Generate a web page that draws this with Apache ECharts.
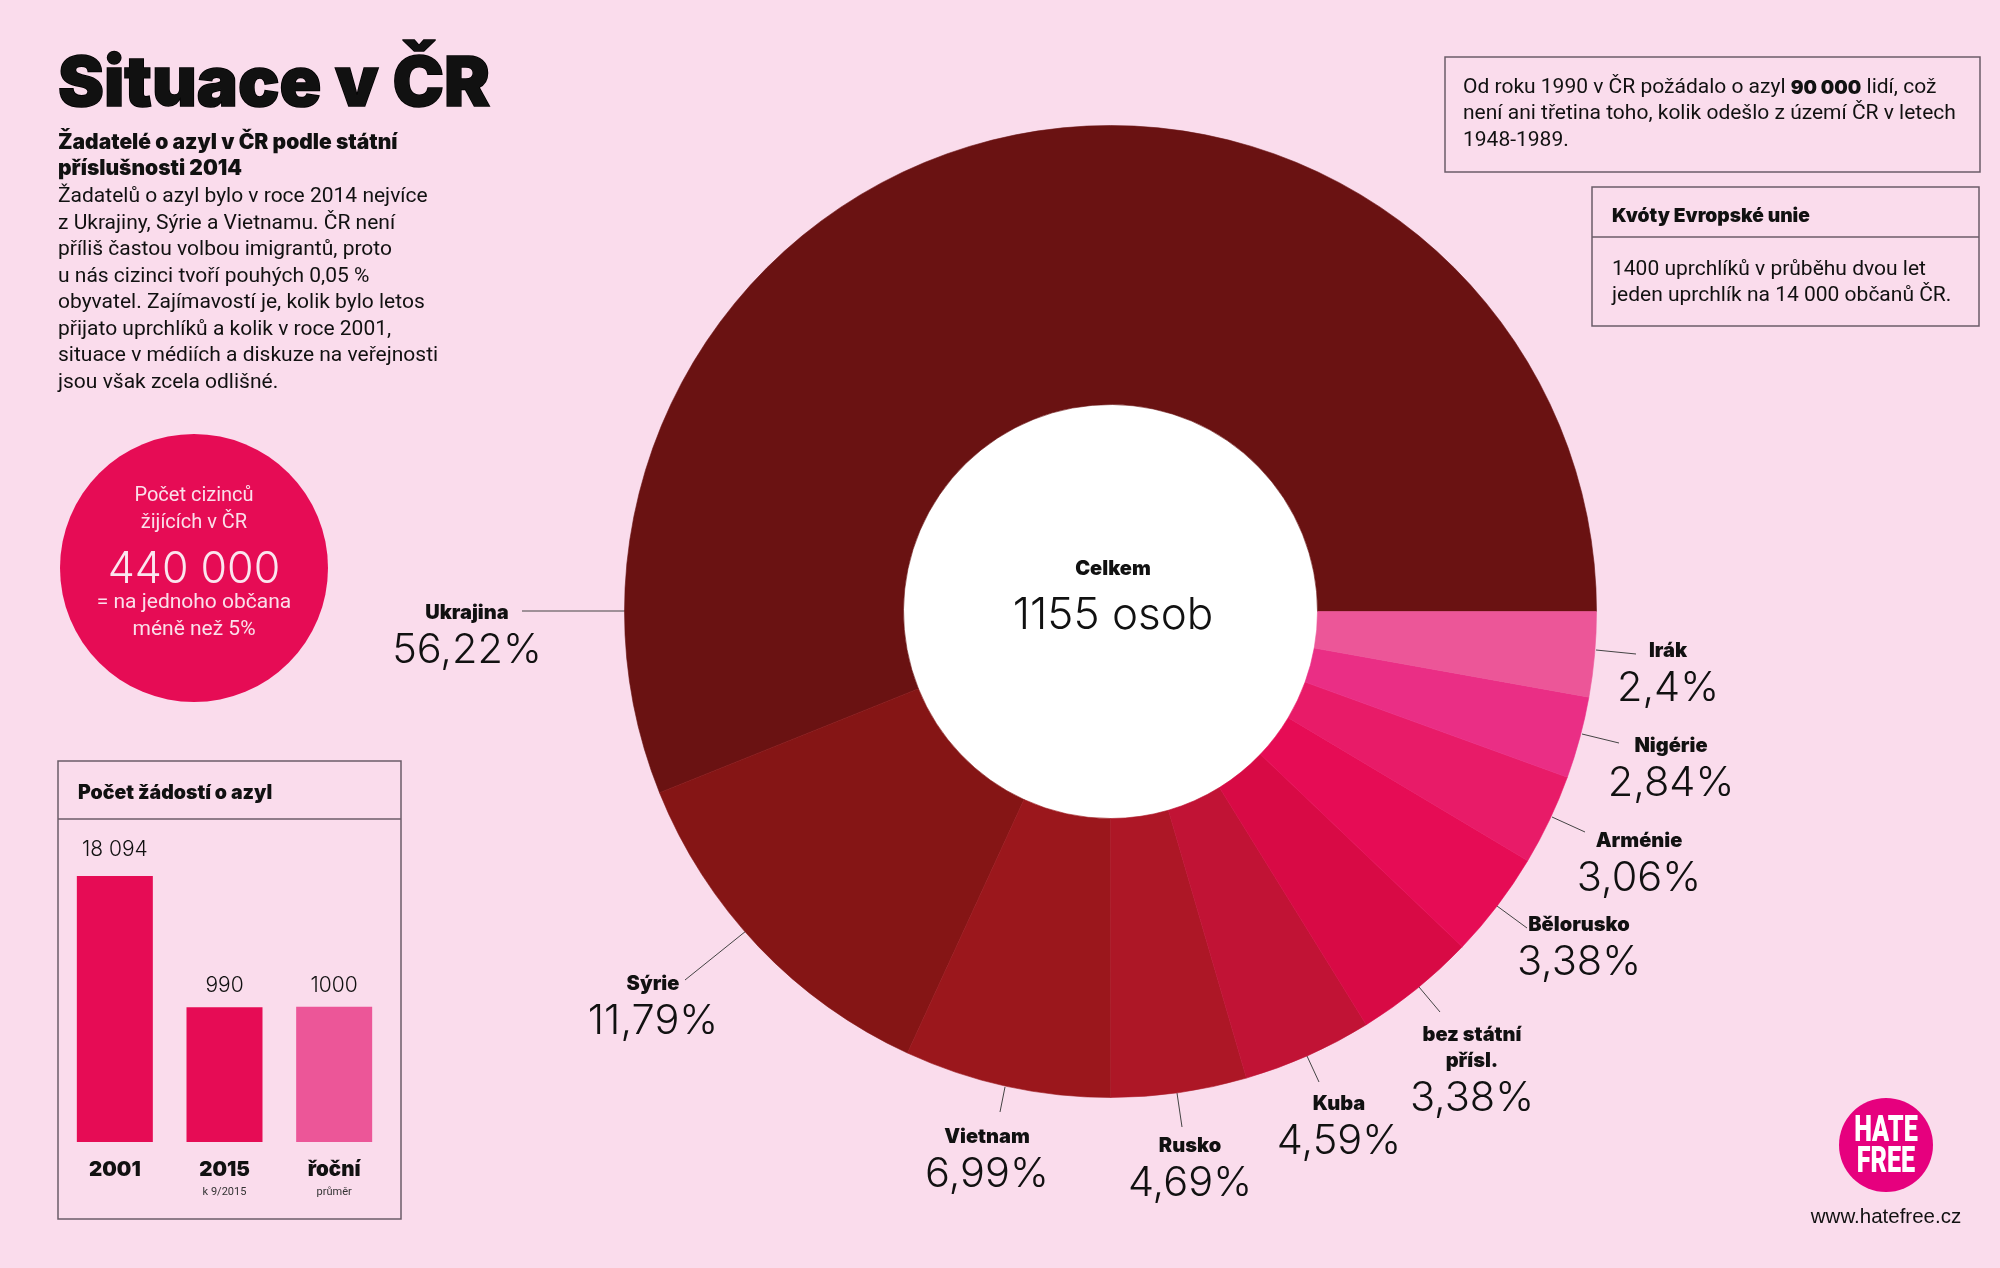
<!DOCTYPE html>
<html>
<head>
<meta charset="utf-8">
<style>html,body{margin:0;padding:0;background:#fadcec}#main{width:2000px;height:1268px}</style>
<script src="https://cdn.jsdelivr.net/npm/echarts@6/dist/echarts.min.js"></script>
</head>
<body>
<div id="main"></div>
<script>
var countries = ['Ukrajina', 'Sýrie', 'Vietnam', 'Rusko', 'Kuba', 'bez státní\npřísl.', 'Bělorusko', 'Arménie', 'Nigérie', 'Irák'];
// printed percentages
var percentLabels = ['56,22%', '11,79%', '6,99%', '4,69%', '4,59%', '3,38%', '3,38%', '3,06%', '2,84%', '2,4%'];
// shares as the slices are actually drawn in the picture (they differ a bit from the printed text)
var sliceShares = [56.08, 12.06, 6.87, 4.50, 4.31, 4.06, 3.55, 3.03, 2.72, 2.82];
var sliceColors = ['#6a1212', '#851515', '#9b171c', '#ad1726', '#c11335', '#d80a45', '#e60c55', '#e81b68', '#ea2e85', '#ec5698'];

var barYears = ['2001', '2015', 'řoční'];
var barNotes = ['', 'k 9/2015', 'průměr'];
var barValues = [18094, 990, 1000];
var barValueLabels = ['18 094', '990', '1000'];
var barLabelGaps = [16, 11, 11];
var barColors = ['#e60c55', '#e60c55', '#ec5698'];

var bodyLines = [
    'Žadatelů o azyl bylo v roce 2014 nejvíce',
    'z Ukrajiny, Sýrie a Vietnamu. ČR není',
    'příliš častou volbou imigrantů, proto',
    'u nás cizinci tvoří pouhých 0,05 %',
    'obyvatel. Zajímavostí je, kolik bylo letos',
    'přijato uprchlíků a kolik v roce 2001,',
    'situace v médiích a diskuze na veřejnosti',
    'jsou však zcela odlišné.'
];

// label centre x, first name line y, leader line from / to
var labelSpots = [
    { x: 467, y: 613, line: [[625, 611], [522, 611]] },
    { x: 653, y: 984, line: [[746, 931], [685, 980]] },
    { x: 987, y: 1137, line: [[1005, 1087], [1000, 1112]] },
    { x: 1190, y: 1146, line: [[1177, 1093], [1182, 1127]] },
    { x: 1339, y: 1104, line: [[1307, 1056], [1319, 1082]] },
    { x: 1472, y: 1035, line: [[1419, 987], [1440, 1012]] },
    { x: 1579, y: 925, line: [[1497, 906], [1527, 928]] },
    { x: 1639, y: 841, line: [[1552, 817], [1585, 832]] },
    { x: 1671, y: 746, line: [[1582, 734], [1619, 743]] },
    { x: 1668, y: 651, line: [[1596, 650], [1636, 654]] }
];

var INK = '#111111';
var RULE = '#6b5c68';
var BODY = 'Roboto';
var HEAVY = 'Inter';
var LIGHT = 'Inter';

function txt(x, y, text, size, opts) {
    opts = opts || {};
    return {
        type: 'text',
        x: x,
        y: y,
        scaleX: opts.scaleX || 1,
        style: {
            text: text,
            fill: opts.fill || INK,
            font: (opts.weight || 400) + ' ' + size + 'px ' + (opts.family || BODY),
            align: opts.align || 'left',
            verticalAlign: 'middle',
            stroke: opts.stroke,
            lineWidth: opts.stroke ? (opts.strokeWidth || 1) : 0,
            rich: opts.rich
        }
    };
}
function box(x, y, w, h) {
    return { type: 'rect', shape: { x: x, y: y, width: w, height: h }, style: { fill: 'transparent', stroke: RULE, lineWidth: 1.5 } };
}
function rule(x1, x2, y) {
    return { type: 'line', shape: { x1: x1, y1: y, x2: x2, y2: y }, style: { stroke: RULE, lineWidth: 1.5 } };
}

var graphics = [
    txt(58, 85, 'Situace v ČR', 69, { weight: 900, family: HEAVY, stroke: '#000', strokeWidth: 1.5 }),
    txt(58, 143, 'Žadatelé o azyl v ČR podle státní', 21, { weight: 900, family: HEAVY }),
    txt(58, 169, 'příslušnosti 2014', 21, { weight: 900, family: HEAVY }),

    { type: 'circle', shape: { cx: 194, cy: 568, r: 134 }, style: { fill: '#e60c55' } },
    txt(194, 496, 'Počet cizinců', 20, { fill: '#fbdfea', align: 'center' }),
    txt(194, 523, 'žijících v ČR', 20, { fill: '#fbdfea', align: 'center' }),
    txt(194, 570, '440 000', 43, { fill: '#fbe6ef', align: 'center', weight: 300, family: LIGHT }),
    txt(194, 603, '= na jednoho občana', 21, { fill: '#fbdfea', align: 'center' }),
    txt(194, 630, 'méně než 5%', 21, { fill: '#fbdfea', align: 'center' }),

    box(58, 761, 343, 458),
    rule(58, 401, 819),
    txt(78, 793, 'Počet žádostí o azyl', 19.5, { weight: 900, family: HEAVY }),

    box(1445, 57, 535, 115),
    txt(1463, 88, '{a|Od roku 1990 v ČR požádalo o azyl }{b|90 000}{a| lidí, což}', 21, {
        rich: {
            a: { font: '400 21px ' + BODY, fill: INK },
            b: { font: '900 19px ' + HEAVY, fill: INK }
        }
    }),
    txt(1463, 114, 'není ani třetina toho, kolik odešlo z území ČR v letech', 21),
    txt(1463, 141, '1948-1989.', 21),

    box(1592, 187, 387, 139),
    rule(1592, 1979, 237),
    txt(1612, 216, 'Kvóty Evropské unie', 19.2, { weight: 900, family: HEAVY }),
    txt(1612, 270, '1400 uprchlíků v průběhu dvou let', 21),
    txt(1612, 296, 'jeden uprchlík na 14 000 občanů ČR.', 21),

    { type: 'circle', shape: { cx: 1110.5, cy: 611.5, r: 208 }, style: { fill: '#ffffff' } },
    txt(1113, 569, 'Celkem', 20, { weight: 900, family: HEAVY, align: 'center' }),
    txt(1113, 616, '1155 osob', 44, { weight: 300, family: LIGHT, align: 'center' }),

    { type: 'circle', shape: { cx: 1886, cy: 1145, r: 47 }, style: { fill: '#e6007e' } },
    txt(1886, 1132, 'HATE', 36, { weight: 900, fill: '#ffffff', align: 'center', scaleX: 0.7 }),
    txt(1886, 1163, 'FREE', 36, { weight: 900, fill: '#ffffff', align: 'center', scaleX: 0.7 }),
    txt(1886, 1217, 'www.hatefree.cz', 20.5, { family: '"Liberation Sans"', align: 'center' })
];
bodyLines.forEach(function (line, i) {
    graphics.push(txt(58, 197 + i * 26.5, line, 21));
});

var myChart = echarts.init(document.getElementById('main'), null, { renderer: 'canvas' });

var option = {
    backgroundColor: '#fadcec',
    animation: false,
    graphic: { elements: graphics },
    grid: { left: 60, width: 329, top: 876, height: 266, containLabel: false },
    xAxis: {
        type: 'category',
        data: barYears,
        axisLine: { show: false },
        axisTick: { show: false },
        axisLabel: {
            margin: 16,
            interval: 0,
            formatter: function (val, i) {
                return barNotes[i] ? '{y|' + val + '}\n{n|' + barNotes[i] + '}' : '{y|' + val + '}';
            },
            rich: {
                y: { fontFamily: HEAVY, fontWeight: 900, fontSize: 20.5, color: INK, lineHeight: 24, align: 'center' },
                n: { fontFamily: BODY, fontSize: 11, color: '#333', lineHeight: 20, align: 'center' }
            }
        }
    },
    // log scale: the picture draws the bars far from linear
    yAxis: { type: 'log', min: 50, max: 18094, show: false, splitLine: { show: false } },
    series: [
        {
            type: 'bar',
            barWidth: 76,
            silent: true,
            data: barValues.map(function (v, i) {
                return { value: v, itemStyle: { color: barColors[i] }, label: { distance: barLabelGaps[i] } };
            }),
            label: {
                show: true,
                position: 'top',
                fontFamily: LIGHT,
                fontWeight: 300,
                fontSize: 21,
                color: INK,
                formatter: function (p) { return barValueLabels[p.dataIndex]; }
            }
        },
        {
            type: 'pie',
            center: [1110.5, 611.5],
            radius: [207, 486],
            startAngle: 0,
            clockwise: false,
            silent: true,
            avoidLabelOverlap: false,
            data: countries.map(function (name, i) {
                return { name: name, value: sliceShares[i], itemStyle: { color: sliceColors[i], borderColor: sliceColors[i], borderWidth: 0.6 } };
            }),
            label: {
                show: true,
                formatter: function (p) {
                    var names = p.name.split('\n').map(function (n) { return '{n|' + n + '}'; });
                    return names.join('\n') + '\n{p|' + percentLabels[p.dataIndex] + '}';
                },
                rich: {
                    n: { fontFamily: HEAVY, fontWeight: 900, fontSize: 20, color: INK, lineHeight: 26, align: 'center' },
                    p: { fontFamily: LIGHT, fontWeight: 300, fontSize: 41.5, color: INK, lineHeight: 50, align: 'center' }
                }
            },
            labelLine: { show: true, length: 5, length2: 5, lineStyle: { color: '#444', width: 1 } },
            labelLayout: function (params) {
                var s = labelSpots[params.dataIndex];
                var twoLines = countries[params.dataIndex].indexOf('\n') >= 0;
                return {
                    x: s.x,
                    y: s.y + (twoLines ? 38 : 25),
                    align: 'center',
                    verticalAlign: 'middle',
                    labelLinePoints: s.line
                };
            }
        }
    ]
};

myChart.setOption(option);
window.addEventListener('resize', myChart.resize);
</script>
</body>
</html>
